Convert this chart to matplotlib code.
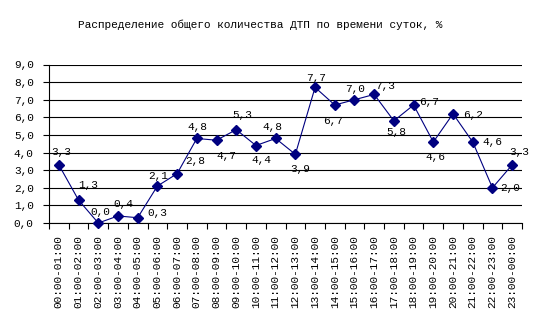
import matplotlib.pyplot as plt

plt.rcParams["font.family"] = ["Liberation Mono", "DejaVu Sans Mono"]

TITLE = "Распределение общего количества ДТП по времени суток, %"
HOURS = [f"{h:02d}:00-{(h + 1) % 24:02d}:00" for h in range(24)]
SHARE = [3.3, 1.3, 0.0, 0.4, 0.3, 2.1, 2.8, 4.8, 4.7, 5.3, 4.4, 4.8,
         3.9, 7.7, 6.7, 7.0, 7.3, 5.8, 6.7, 4.6, 6.2, 4.6, 2.0, 3.3]
# where each value label sits relative to its marker (pixels, x right / y up)
LABEL_OFFSETS = [(2, 13), (10, 15), (2, 11), (5, 12), (20, 5), (1, 10),
                 (18, 13), (1, 11), (10, -16), (6, 15), (5, -14), (-3, 11),
                 (5, -15), (1, 9), (-2, -16), (1, 11), (11, 8), (2, -11),
                 (15, 3), (2, -15), (20, -1), (20, 0), (18, 0), (7, 13)]

NAVY = "#000080"


def fmt(v):
    return f"{v:.1f}".replace(".", ",")


fig = plt.figure(figsize=(5.38, 3.32), dpi=100)
ax = fig.add_axes([49 / 538, 1 - 223 / 332, (522 - 49) / 538, (223 - 64.5) / 332])

x = list(range(len(SHARE)))
ax.plot(x, SHARE, color=NAVY, lw=0.8, marker="D", ms=4.6, mfc=NAVY, mec=NAVY,
        zorder=3, clip_on=False)

for xi, v, (dx, dy) in zip(x, SHARE, LABEL_OFFSETS):
    ax.annotate(fmt(v), (xi, v), xytext=(dx, dy), textcoords="offset pixels",
                ha="center", va="center", fontsize=8, color="black", zorder=4)

ax.set_xlim(-0.5, len(SHARE) - 0.5)
ax.set_ylim(0, 9)
yt = list(range(10))
ax.set_yticks(yt, [fmt(t) for t in yt], fontsize=8)
ax.set_xticks(x, HOURS, rotation=90, fontsize=8)
ax.set_xticks([i - 0.5 for i in range(len(SHARE) + 1)], minor=True)
ax.tick_params(axis="x", which="major", length=0, pad=9)
ax.tick_params(axis="x", which="minor", length=4, width=0.8, color="black")
ax.tick_params(axis="y", length=4, width=0.8, pad=7, color="black")

ax.grid(axis="y", color="black", lw=0.8)
ax.set_axisbelow(True)
for side in ("top", "right"):
    ax.spines[side].set_visible(False)
for side in ("left", "bottom"):
    ax.spines[side].set_linewidth(0.8)

fig.text(260 / 538, 1 - 25 / 332, TITLE, ha="center", va="center", fontsize=8)

fig.savefig("out.png", dpi=100)
